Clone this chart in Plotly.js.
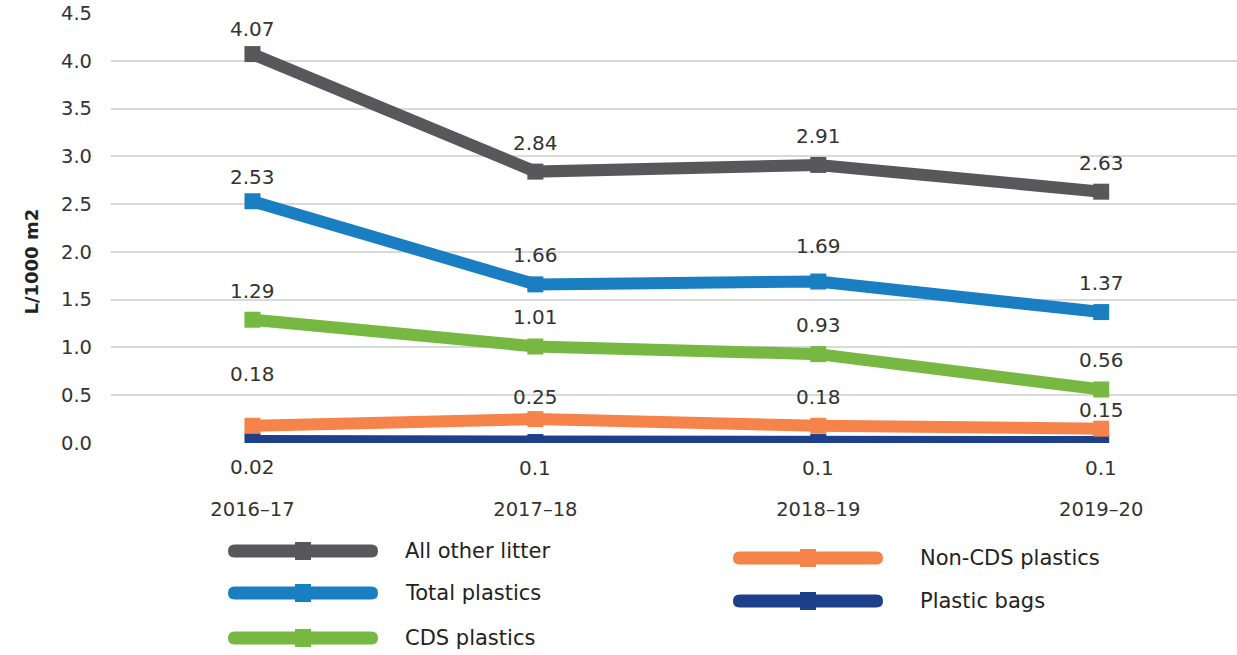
<!DOCTYPE html>
<html>
<head>
<meta charset="utf-8">
<script src="https://cdn.plot.ly/plotly-3.0.1.min.js"></script>
<style>html,body{margin:0;padding:0;background:#fff;}#chart{width:1237px;height:655px;}</style>
</head>
<body>
<div id="chart"></div>
<script>
// ---- data ----
const categories = ["2016–17", "2017–18", "2018–19", "2019–20"];
const seriesNames = ["All other litter", "Total plastics", "CDS plastics", "Non-CDS plastics", "Plastic bags"];
const allOtherLitter = [4.07, 2.84, 2.91, 2.63];
const totalPlastics = [2.53, 1.66, 1.69, 1.37];
const cdsPlastics = [1.29, 1.01, 0.93, 0.56];
const nonCdsPlastics = [0.18, 0.25, 0.18, 0.15];
const plasticBags = [0.02, 0.01, 0.01, 0.01];
const plasticBagsLabels = ["0.02", "0.1", "0.1", "0.1"];
const yTickVals = [0, 0.5, 1, 1.5, 2, 2.5, 3, 3.5, 4, 4.5];
const yTickText = ["0.0", "0.5", "1.0", "1.5", "2.0", "2.5", "3.0", "3.5", "4.0", "4.5"];
const yAxisTitle = "L/1000 m2";

// ---- styling ----
const colors = ["#58585a", "#1a7fc2", "#77b843", "#f5834a", "#1e3f8a"];
const values = [allOtherLitter, totalPlastics, cdsPlastics, nonCdsPlastics, plasticBags];
const labels = [
  allOtherLitter.map(String),
  totalPlastics.map(String),
  cdsPlastics.map(String),
  nonCdsPlastics.map(String),
  plasticBagsLabels
];
const FONT = "DejaVu Sans, sans-serif";
const TXT = "#333333";

// drawing order: bottom series first so upper lines overlap nicely
const order = [4, 3, 2, 1, 0];
const traces = order.map(i => ({
  type: "scatter",
  mode: "lines+markers",
  name: seriesNames[i],
  x: categories,
  y: values[i],
  line: {color: colors[i], width: 12},
  marker: {color: colors[i], symbol: "square", size: 16},
  showlegend: false,
  hoverinfo: "x+y+name"
}));

// data labels
const defaultShift = 29;
const shiftOverride = {"0-0": 25, "1-0": 24, "1-2": 36, "3-0": 52, "3-1": 22, "3-3": 19, "4-0": -26, "4-1": -26, "4-2": -26, "4-3": -26};
const annotations = [];
values.forEach((vals, s) => {
  vals.forEach((v, k) => {
    const key = s + "-" + k;
    annotations.push({
      x: categories[k], y: v, xref: "x", yref: "y",
      text: labels[s][k], showarrow: false,
      yshift: (key in shiftOverride) ? shiftOverride[key] : defaultShift,
      font: {family: FONT, size: 20, color: TXT}
    });
  });
});

// layout geometry (pixels)
const W = 1237, H = 655, ML = 111, MR = 0, MT = 13, MB = 212;
const PW = W - ML - MR, PH = H - MT - MB;
const px = X => (X - ML) / PW;
const py = Y => (H - MB - Y) / PH;

// y-axis title
annotations.push({
  x: px(18), y: py(262), xref: "paper", yref: "paper",
  text: yAxisTitle, textangle: -90, showarrow: false,
  font: {family: FONT, size: 18, color: "#222", weight: "bold"}
});

// custom legend: two columns
const legendPos = [
  {cx: 303, y: 551, tx: 403},
  {cx: 303, y: 593, tx: 403},
  {cx: 303, y: 638, tx: 403},
  {cx: 808, y: 558, tx: 918},
  {cx: 808, y: 601, tx: 918}
];
const shapes = [];
legendPos.forEach((p, i) => {
  const hw = 75, hh = 6.5;
  shapes.push({
    type: "path", xref: "paper", yref: "paper",
    xsizemode: "pixel", ysizemode: "pixel",
    xanchor: px(p.cx), yanchor: py(p.y),
    path: `M${-hw + hh},${-hh} L${hw - hh},${-hh} Q${hw},${-hh} ${hw},0 Q${hw},${hh} ${hw - hh},${hh} L${-hw + hh},${hh} Q${-hw},${hh} ${-hw},0 Q${-hw},${-hh} ${-hw + hh},${-hh} Z`,
    fillcolor: colors[i], line: {width: 0}
  });
  shapes.push({
    type: "rect", xref: "paper", yref: "paper",
    xsizemode: "pixel", ysizemode: "pixel",
    xanchor: px(p.cx), yanchor: py(p.y),
    x0: -8, x1: 8, y0: -9, y1: 9,
    fillcolor: colors[i], line: {width: 0}
  });
  annotations.push({
    x: px(p.tx), y: py(p.y), xref: "paper", yref: "paper",
    xanchor: "left", yanchor: "middle", showarrow: false,
    text: seriesNames[i],
    font: {family: FONT, size: 21, color: "#222"}
  });
});

const layout = {
  width: W, height: H,
  margin: {l: ML, r: MR, t: MT, b: MB, pad: 0},
  paper_bgcolor: "#ffffff", plot_bgcolor: "#ffffff",
  showlegend: false,
  font: {family: FONT, size: 19, color: TXT},
  xaxis: {
    type: "category", range: [-0.5, 3.48],
    showgrid: false, zeroline: false, showline: false,
    ticks: "", ticklabelstandoff: 52,
    tickfont: {family: FONT, size: 19.5, color: TXT},
    fixedrange: true
  },
  yaxis: {
    range: [0, 4.5],
    tickvals: yTickVals, ticktext: yTickText,
    showgrid: true, gridcolor: "#d9d9d9", gridwidth: 2,
    zeroline: false, showline: false, ticks: "",
    ticklabelstandoff: 18,
    tickfont: {family: FONT, size: 19.5, color: TXT},
    fixedrange: true
  },
  annotations: annotations,
  shapes: shapes
};

Plotly.newPlot("chart", traces, layout, {displayModeBar: false});
</script>
</body>
</html>
